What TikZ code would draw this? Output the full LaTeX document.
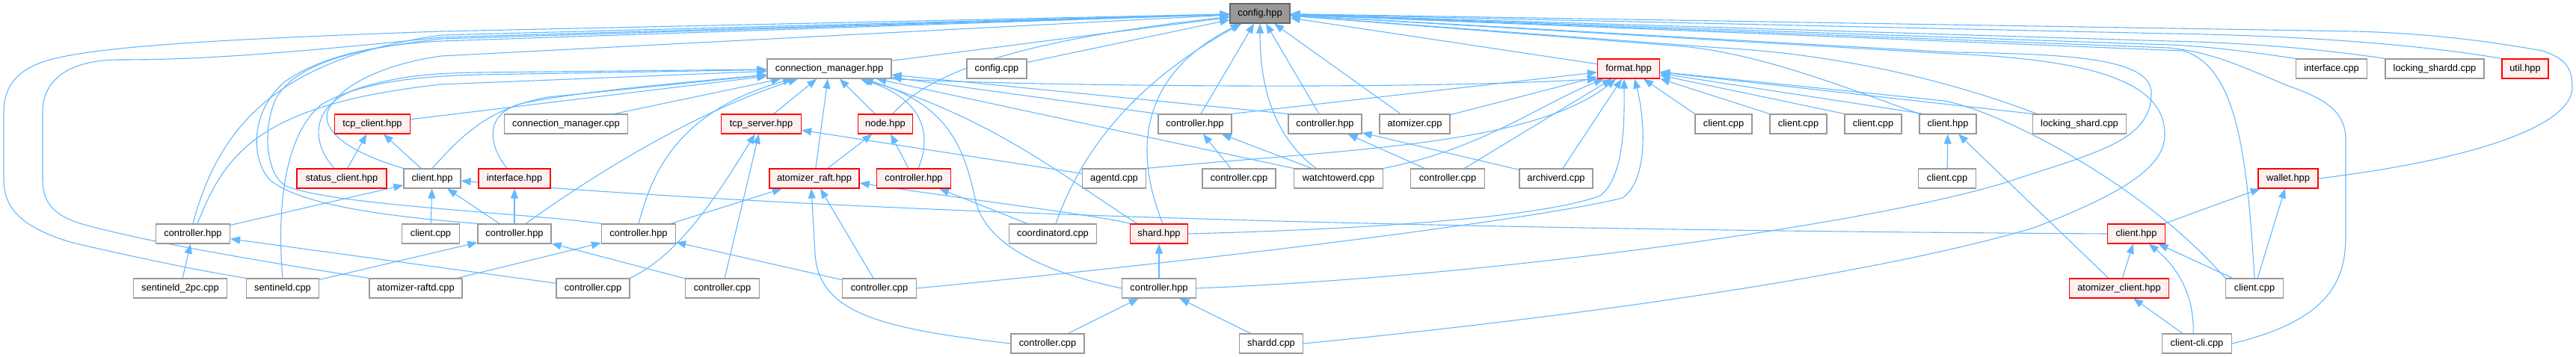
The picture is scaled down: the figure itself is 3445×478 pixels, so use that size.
\documentclass[tikz,border=0pt]{standalone}
\usepackage{fontspec}
\setmainfont{Liberation Sans}
\usetikzlibrary{arrows.meta}
\definecolor{edgec}{HTML}{63B8FF}
\definecolor{nbord}{HTML}{999999}
\definecolor{rbord}{HTML}{FF0000}
\definecolor{rfill}{HTML}{FFF0F0}
\definecolor{rootfill}{HTML}{999999}
\definecolor{rootbord}{HTML}{666666}
\newcommand\dxfont{\fontsize{12.85pt}{15pt}\selectfont}
\pgfdeclarelayer{bg}
\pgfsetlayers{bg,main}
\tikzset{
  nbox/.style={draw=nbord, fill=white, line width=1.2pt, minimum height=26pt, inner sep=0pt, font=\dxfont, text=black},
  rbox/.style={nbox, draw=rbord, fill=rfill},
  root/.style={nbox, draw=rootbord, fill=rootfill},
  e/.style={draw=edgec, line width=1.1pt, -{Triangle[length=13pt,width=10pt]}},
}
\begin{document}
\begin{tikzpicture}[x=1pt,y=-1pt]
\useasboundingbox (0,0) rectangle (3445,478);
% row 0
\node[root, minimum width=80pt] (cfg) at (1685,18) {config.hpp};
% row 1
\node[nbox, minimum width=166pt] (cm) at (1109,92) {connection\_manager.hpp};
\node[nbox, minimum width=80pt] (cfgcpp) at (1333,92) {config.cpp};
\node[rbox, minimum width=83pt] (fmt) at (2178,92) {format.hpp};
\node[nbox, minimum width=95pt] (ifcpp) at (3118,92) {interface.cpp};
\node[nbox, minimum width=132pt] (lsdcpp) at (3256,92) {locking\_shardd.cpp};
\node[rbox, minimum width=62pt] (util) at (3377,92) {util.hpp};
% row 2
\node[rbox, minimum width=101pt] (tcpc) at (498,166) {tcp\_client.hpp};
\node[nbox, minimum width=165pt] (cmcpp) at (757,166) {connection\_manager.cpp};
\node[rbox, minimum width=107pt] (tcps) at (1018,166) {tcp\_server.hpp};
\node[rbox, minimum width=73pt] (node) at (1184,166) {node.hpp};
\node[nbox, minimum width=98pt] (ctlA) at (1598,166) {controller.hpp};
\node[nbox, minimum width=98pt] (ctlB) at (1772,166) {controller.hpp};
\node[nbox, minimum width=94pt] (atomcpp) at (1892,166) {atomizer.cpp};
\node[nbox, minimum width=76pt] (clcppA) at (2305,166) {client.cpp};
\node[nbox, minimum width=76pt] (clcppB) at (2405,166) {client.cpp};
\node[nbox, minimum width=76pt] (clcppC) at (2505,166) {client.cpp};
\node[nbox, minimum width=76pt] (clhA) at (2605,166) {client.hpp};
\node[nbox, minimum width=125pt] (lscpp) at (2781,166) {locking\_shard.cpp};
% row 3
\node[rbox, minimum width=120pt] (stc) at (457,239) {status\_client.hpp};
\node[nbox, minimum width=76pt] (clhB) at (578,239) {client.hpp};
\node[rbox, minimum width=96pt] (ifh) at (688,239) {interface.hpp};
\node[rbox, minimum width=120pt] (araft) at (1089,239) {atomizer\_raft.hpp};
\node[rbox, minimum width=99pt] (ctlC) at (1222,239) {controller.hpp};
\node[nbox, minimum width=85pt] (agentd) at (1490,239) {agentd.cpp};
\node[nbox, minimum width=98pt] (ctlcppA) at (1657,239) {controller.cpp};
\node[nbox, minimum width=119pt] (wtd) at (1790,239) {watchtowerd.cpp};
\node[nbox, minimum width=99pt] (ctlcppB) at (1936,239) {controller.cpp};
\node[nbox, minimum width=98pt] (archd) at (2081,239) {archiverd.cpp};
\node[nbox, minimum width=77pt] (clcppD) at (2604,239) {client.cpp};
\node[rbox, minimum width=80pt] (wallet) at (3060,239) {wallet.hpp};
% row 4
\node[nbox, minimum width=99pt] (ctlD) at (258,313) {controller.hpp};
\node[nbox, minimum width=77pt] (clcppE) at (576,313) {client.cpp};
\node[nbox, minimum width=98pt] (ctlE) at (688,313) {controller.hpp};
\node[nbox, minimum width=99pt] (ctlF) at (854,313) {controller.hpp};
\node[nbox, minimum width=117pt] (coord) at (1408,313) {coordinatord.cpp};
\node[rbox, minimum width=77pt] (shard) at (1550,313) {shard.hpp};
\node[rbox, minimum width=77pt] (clhC) at (2857,313) {client.hpp};
% row 5
\node[nbox, minimum width=125pt] (s2pc) at (241,386) {sentineld\_2pc.cpp};
\node[nbox, minimum width=97pt] (sentd) at (378,386) {sentineld.cpp};
\node[nbox, minimum width=124pt] (araftd) at (556,386) {atomizer-raftd.cpp};
\node[nbox, minimum width=98pt] (ctlcppC) at (793,386) {controller.cpp};
\node[nbox, minimum width=99pt] (ctlcppD) at (966,386) {controller.cpp};
\node[nbox, minimum width=99pt] (ctlcppE) at (1176,386) {controller.cpp};
\node[nbox, minimum width=99pt] (ctlG) at (1550,386) {controller.hpp};
\node[rbox, minimum width=133pt] (atcl) at (2834,386) {atomizer\_client.hpp};
\node[nbox, minimum width=77pt] (clcppF) at (3015,386) {client.cpp};
% row 6
\node[nbox, minimum width=98pt] (ctlcppF) at (1401,460) {controller.cpp};
\node[nbox, minimum width=85pt] (shardd) at (1700,460) {shardd.cpp};
\node[nbox, minimum width=93pt] (clicli) at (2938,460) {client-cli.cpp};

\begin{pgfonlayer}{bg}
% ---- to config.hpp
\draw[e] (cm) -- (cfg);
\draw[e] (cfgcpp) -- (cfg);
\draw[e] (fmt) -- (cfg);
\draw[e] (ifcpp.north west) .. controls (3000,68) and (2950,62) .. (2900,60) -- (cfg);
\draw[e] (lsdcpp.north west) .. controls (3100,65) and (3000,57) .. (2900,55) -- (cfg);
\draw[e] (util.north west) .. controls (3250,62) and (3100,48) .. (2900,45) -- (cfg);
\draw[e] (wallet.east) .. controls (3300,215) and (3440,170) .. (3440,117) .. controls (3440,90) and (3430,78) .. (3400,68) .. controls (3300,50) and (3220,44) .. (3150,42) -- (cfg);
\draw[e] (clicli.east) .. controls (3110,430) and (3137,380) .. (3137,317) -- (3137,187) .. controls (3137,150) and (3110,132) .. (3060,115) .. controls (3000,90) and (2960,70) .. (2900,64) -- (cfg);
\draw[e] (clcppF.north) .. controls (3005,200) and (2990,90) .. (2920,68) -- (cfg);
\draw[e] (clhA.north west) .. controls (2450,110) and (2350,72) .. (2250,62) -- (cfg);
\draw[e] ([xshift=6pt]lscpp.north west) .. controls (2600,105) and (2450,72) .. (2300,64) -- (cfg);
\draw[e] (ctlG.east) .. controls (2000,370) and (2500,300) .. (2680,245) .. controls (2800,205) and (2877,190) .. (2877,125) .. controls (2877,80) and (2780,72) .. (2610,70) -- (cfg);
\draw[e] (shardd.east) .. controls (2100,425) and (2500,370) .. (2720,305) .. controls (2850,255) and (2895,220) .. (2895,180) .. controls (2895,110) and (2800,80) .. (2610,72) -- (cfg);
\draw[e] (ctlD.north) .. controls (290,180) and (360,80) .. (590,47) -- (cfg);
\draw[e] (sentd.north west) .. controls (250,360) and (140,335) .. (97,325) .. controls (30,305) and (5,280) .. (5,240) -- (5,150) .. controls (5,110) and (30,88) .. (75,78) .. controls (140,62) and (300,52) .. (590,42) -- (cfg);
\draw[e] (araftd.north west) .. controls (350,350) and (200,325) .. (110,300) .. controls (70,288) and (57,270) .. (57,240) -- (57,150) .. controls (57,105) and (95,80) .. (160,80) .. controls (250,80) and (350,75) .. (590,50) -- (cfg);
\draw[e] (ctlE.north west) .. controls (520,290) and (400,275) .. (360,240) .. controls (335,210) and (335,150) .. (380,110) .. controls (430,75) and (500,60) .. (590,55) -- (cfg);
\draw[e] (ctlF.north west) .. controls (700,285) and (450,275) .. (385,250) .. controls (355,238) and (350,170) .. (370,130) .. controls (400,82) and (480,65) .. (590,52) -- (cfg);
\draw[e] (clhB.north west) .. controls (470,205) and (425,175) .. (440,145) .. controls (460,110) and (520,85) .. (590,75) -- (cfg);
\draw[e] ([xshift=10pt]node.north) .. controls (1240,100) and (1350,55) .. (cfg);
\draw[e] ([xshift=4pt]coord.north) .. controls (1440,220) and (1500,120) .. (cfg);
\draw[e] ([xshift=5pt]shard.north) .. controls (1515,200) and (1525,100) .. (cfg);
\draw[e] (ctlA) -- (cfg);
\draw[e] ([xshift=-30pt]wtd.north) .. controls (1700,180) and (1685,110) .. (cfg);
\draw[e] (ctlB) -- (cfg);
\draw[e] (atomcpp) -- (cfg);
% ---- to connection_manager.hpp
\draw[e] (tcpc) -- (cm);
\draw[e] ([xshift=-10pt]stc.north) .. controls (415,190) and (415,140) .. (480,118) .. controls (530,103) and (570,98) .. (640,97) -- (cm);
\draw[e] (clhB.north) .. controls (615,185) and (650,145) .. (733,130) -- (cm);
\draw[e] ([xshift=-10pt]ifh.north) .. controls (650,190) and (650,150) .. (700,138) .. controls (780,122) and (900,112) .. (cm);
\draw[e] ([xshift=6pt]ctlD.north) .. controls (300,210) and (340,140) .. (590,113) -- (cm);
\draw[e] (sentd.north) .. controls (370,280) and (380,180) .. (430,140) .. controls (480,110) and (560,102) .. (640,100) -- (cm);
\draw[e] (cmcpp) -- (cm);
\draw[e] ([xshift=15pt]ctlE.north) .. controls (800,230) and (930,150) .. (cm);
\draw[e] (ctlF.north) .. controls (870,240) and (900,150) .. (cm);
\draw[e] (tcps) -- (cm);
\draw[e] (araft) -- (cm);
\draw[e] (node) -- (cm);
\draw[e] ([xshift=6pt]ctlC.north) .. controls (1245,185) and (1240,135) .. (cm);
\draw[e] (ctlA.north west) -- (cm);
\draw[e] (ctlB.north west) -- (cm);
\draw[e] (wtd.north west) -- (cm);
\draw[e] ([xshift=10pt]shard.north west) .. controls (1420,235) and (1330,160) .. (cm);
\draw[e] (ctlG.west) .. controls (1400,365) and (1320,330) .. (1305,270) .. controls (1290,200) and (1270,140) .. (cm);
% ---- to format.hpp
\draw[e] (cm.south east) .. controls (1400,116) and (1900,120) .. (fmt.south west);
\draw[e] (ctlA.north east) -- (fmt);
\draw[e] (atomcpp) -- (fmt);
\draw[e] (wtd.north east) .. controls (1980,200) and (2060,140) .. (fmt);
\draw[e] (ctlcppB) -- (fmt);
\draw[e] (agentd.north east) .. controls (1800,200) and (2050,195) .. (fmt);
\draw[e] (archd) -- (fmt);
\draw[e] (shard.east) .. controls (1900,305) and (2080,285) .. (2140,262) .. controls (2175,235) and (2172,150) .. ([xshift=-6pt]fmt.south);
\draw[e] (ctlcppE.east) .. controls (1600,350) and (2050,295) .. (2170,265) .. controls (2205,240) and (2200,160) .. ([xshift=8pt]fmt.south);
\draw[e] (clcppA.north west) -- (fmt);
\draw[e] (clcppB.north west) -- (fmt);
\draw[e] (clcppC.north west) -- (fmt);
\draw[e] ([xshift=6pt]clhA.north west) -- (fmt);
\draw[e] (lscpp.north west) -- (fmt);
\draw[e] (clcppF.north west) .. controls (2870,250) and (2680,150) .. (2600,135) -- (fmt);
% ---- others
\draw[e] (s2pc) -- (ctlD);
\draw[e] (ctlcppC) -- (ctlD);
\draw[e] (ctlD) -- (clhB);
\draw[e] (sentd) -- (ctlE);
\draw[e] (ctlcppD) -- (ctlE);
\draw[e] (araftd) -- (ctlF);
\draw[e] (ctlcppE) -- (ctlF);
\draw[e] (ctlE) -- (ifh);
\draw[e] (ctlE) -- (clhB);
\draw[e] (clcppE) -- (clhB);
\draw[e] (clhC.west) .. controls (2000,308) and (1200,290) .. (clhB);
\draw[e] (stc) -- (tcpc);
\draw[e] (clhB) -- (tcpc);
\draw[e] (ctlcppC.north east) .. controls (910,340) and (960,260) .. (tcps);
\draw[e] (ctlcppD) -- (tcps);
\draw[e] (agentd) -- (tcps);
\draw[e] (ctlF) -- (araft);
\draw[e] (ctlcppE) -- (araft);
\draw[e] (shard.north west) .. controls (1480,290) and (1300,268) .. ([yshift=-6pt]araft.east);
\draw[e] (ctlcppF.west) .. controls (1180,440) and (1095,420) .. (1090,340) -- ([xshift=-4pt]araft.south);
\draw[e] (araft) -- (node);
\draw[e] (ctlC) -- (node);
\draw[e] (coord) -- (ctlC);
\draw[e] (ctlcppA) -- (ctlA);
\draw[e] (wtd) -- (ctlA);
\draw[e] (ctlcppB) -- (ctlB);
\draw[e] (archd) -- (ctlB);
\draw[e] (ctlG) -- (shard);
\draw[e] (ctlcppF) -- (ctlG);
\draw[e] (shardd) -- (ctlG);
\draw[e] (clcppD) -- (clhA);
\draw[e] (atcl) -- (clhA);
\draw[e] (atcl) -- (clhC);
\draw[e] (clcppF) -- (clhC);
\draw[e] ([xshift=-5pt]clicli.north) .. controls (2935,400) and (2915,360) .. (clhC);
\draw[e] (clicli) -- (atcl);
\draw[e] (clhC) -- (wallet);
\draw[e] (clcppF) -- (wallet);
\end{pgfonlayer}
\end{tikzpicture}
\end{document}
